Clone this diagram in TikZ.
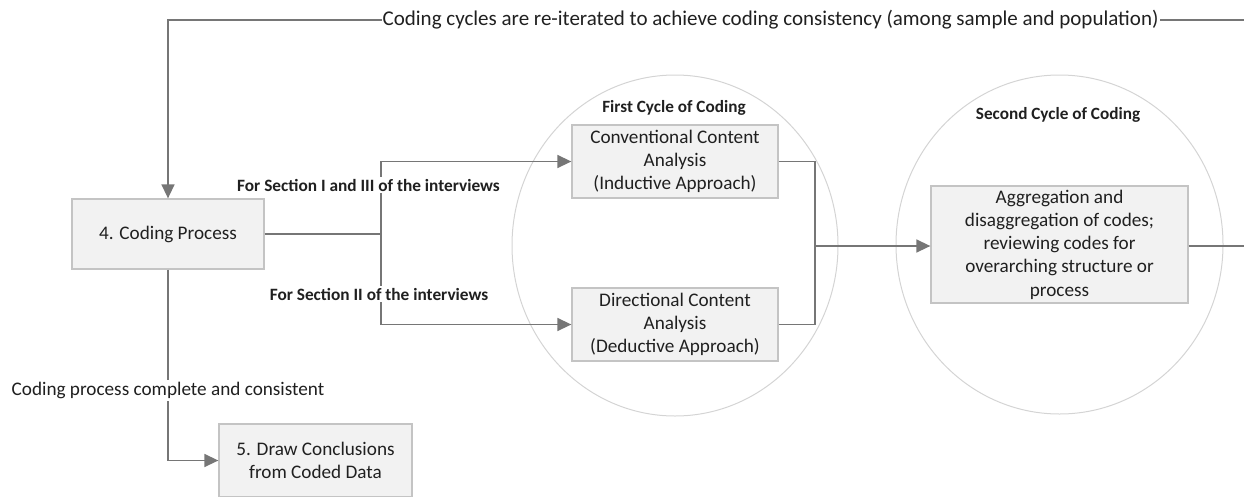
\documentclass[tikz,border=0pt]{standalone}
\usepackage{fontspec}
\setmainfont{Carlito}
\usetikzlibrary{arrows.meta,shapes.geometric}
\definecolor{linegray}{HTML}{767676}
\definecolor{boxfill}{HTML}{F2F2F2}
\definecolor{boxline}{HTML}{C4C4C4}
\definecolor{cycline}{HTML}{D4D4D4}
\definecolor{ink}{HTML}{202020}
\tikzset{
  procbox/.style={draw=boxline, line width=1.3pt, fill=boxfill, align=center, text=ink,
    inner sep=0pt, font=\fontsize{19.2}{23.2}\selectfont},
  cycle/.style={ellipse, draw=cycline, line width=1pt, inner sep=0pt},
  conn/.style={draw=linegray, line width=1.5pt},
  arr/.style={conn, -{Triangle[length=14pt,width=13pt]}},
  plainlbl/.style={text=ink, fill=white, inner sep=2pt, font=\fontsize{19.2}{23}\selectfont},
  looplbl/.style={text=ink, fill=white, inner sep=1pt, font=\fontsize{21}{25}\selectfont},
  boldlbl/.style={text=ink, fill=white, inner sep=1.5pt, font=\fontsize{17.3}{20}\selectfont\bfseries},
  cyclbl/.style={text=ink, inner sep=0pt, font=\fontsize{17.2}{20}\selectfont\bfseries},
}
\begin{document}
\begin{tikzpicture}[x=1pt,y=-1pt]
\useasboundingbox (0,0) rectangle (1244,496);

% coding cycles
\node[cycle, minimum width=326pt, minimum height=341pt] (c1) at (675,245.5) {};
\node[cycle, minimum width=327pt, minimum height=339pt] (c2) at (1059.5,244.5) {};
\node[cyclbl] (c1lbl) at (674,108) {First Cycle of Coding};
\node[cyclbl] (c2lbl) at (1058,115) {Second Cycle of Coding};

% process boxes
\node[procbox, minimum width=192pt, minimum height=70pt] (code) at (168,234) {4. Coding Process};
\node[procbox, minimum width=206pt, minimum height=73pt] (conv) at (675,161.5)
  {Conventional Content\\Analysis\\(Inductive Approach)};
\node[procbox, minimum width=206pt, minimum height=73pt] (dir) at (675,324.5)
  {Directional Content\\Analysis\\(Deductive Approach)};
\node[procbox, minimum width=257pt, minimum height=117pt] (agg) at (1059.5,244.5)
  {Aggregation and\\disaggregation of codes;\\reviewing codes for\\overarching structure or\\process};
\node[procbox, minimum width=193pt, minimum height=73pt] (concl) at (315.5,460.5)
  {5. Draw Conclusions\\from Coded Data};

% junctions and free ends
\coordinate (jl) at (381,234);
\coordinate (jr) at (815,246);
\coordinate (loopin) at (1244,20);
\coordinate (aggout) at (1244,246);

% split into the first cycle
\draw[conn] (code.east) -- (jl);
\draw[arr] (jl) |- (conv.west);
\draw[arr] (jl) |- (dir.west);
\node[boldlbl] (s13) at (368.5,185) {For Section I and III of the interviews};
\node[boldlbl] (s2) at (379,294) {For Section II of the interviews};

% merge into the second cycle
\draw[conn] (conv.east) -| (jr);
\draw[conn] (dir.east) -| (jr);
\draw[arr] (jr) -- (jr -| agg.west);
\draw[conn] (agg.east |- aggout) -- (aggout);

% re-iteration loop
\draw[arr] (loopin) -| (code.north)
  node[looplbl, pos=0.22] (looplbl) {Coding cycles are re-iterated to achieve coding consistency (among sample and population)};

% exit to conclusions
\draw[arr] (code.south) |- (concl.west)
  node[plainlbl, pos=0.316] (donelbl) {Coding process complete and consistent};
\end{tikzpicture}
\end{document}
